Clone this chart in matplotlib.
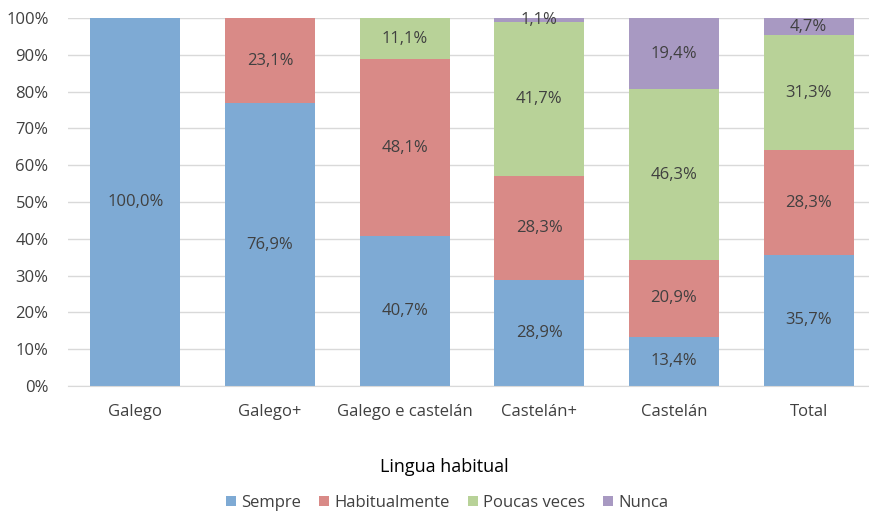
import matplotlib
matplotlib.use("Agg")
import matplotlib.pyplot as plt
import numpy as np

categories = ["Galego", "Galego+", "Galego e castelán", "Castelán+", "Castelán", "Total"]
series_names = ["Sempre", "Habitualmente", "Poucas veces", "Nunca"]
sempre = [100.0, 76.9, 40.7, 28.9, 13.4, 35.7]
habitualmente = [0.0, 23.1, 48.1, 28.3, 20.9, 28.3]
poucas = [0.0, 0.0, 11.1, 41.7, 46.3, 31.3]
nunca = [0.0, 0.0, 0.0, 1.1, 19.4, 4.7]
yticks = [0, 10, 20, 30, 40, 50, 60, 70, 80, 90, 100]

colors = ["#7EAAD4", "#D98A87", "#B8D298", "#A899C2"]
txt = "#404040"
plt.rcParams['font.family'] = ['Open Sans', 'DejaVu Sans']

fig = plt.figure(figsize=(8.7, 5.12), dpi=100)
ax = fig.add_axes([68/870, 1-386/512, (876-68)/870, (386-18)/512])

x = np.arange(len(categories))
bottom = np.zeros(len(categories))
for vals, name, c in zip([sempre, habitualmente, poucas, nunca], series_names, colors):
    v = np.array(vals)
    ax.bar(x, v, width=0.667, bottom=bottom, color=c, label=name, zorder=2)
    for xi, vi, bi in zip(x, v, bottom):
        if vi > 0:
            ax.text(xi, bi + vi/2, f"{vi:.1f}%".replace(".", ","), ha="center", va="center",
                    fontsize=12, color=txt, zorder=3)
    bottom += v

ax.set_xlim(-0.5, len(categories) - 0.5)
ax.set_ylim(0, 100)
ax.set_yticks(yticks)
ax.set_yticklabels([f"{t}%" for t in yticks])
ax.set_xticks(x)
ax.set_xticklabels(categories)
ax.tick_params(axis='both', length=0, labelsize=12, colors=txt)
ax.tick_params(axis='x', pad=13)
ax.tick_params(axis='y', pad=14)
ax.yaxis.grid(True, color="#D9D9D9", linewidth=1, zorder=0)
for s in ["top", "right", "left"]:
    ax.spines[s].set_visible(False)
ax.spines["bottom"].set_color("#D9D9D9")

fig.text(444/870, 1-467/512, "Lingua habitual", ha="center", va="center", fontsize=13, color="black")
handles, labels = ax.get_legend_handles_labels()
fig.legend(handles, labels, loc="center", bbox_to_anchor=(447/870, 1-503/512), ncol=4,
           frameon=False, fontsize=12, handlelength=0.6, handleheight=0.6, handletextpad=0.3,
           columnspacing=1.1, labelcolor=txt)

fig.savefig("out.png", dpi=100)
